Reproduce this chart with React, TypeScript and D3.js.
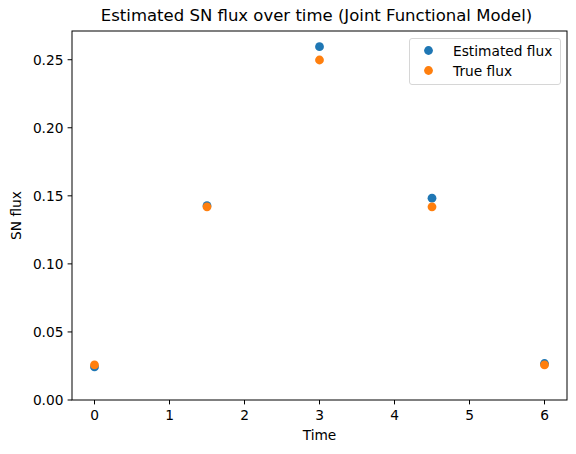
import React from "react";
import { scaleLinear } from "d3";

const times = [0, 1.5, 3, 4.5, 6];
const estimatedFlux = [0.0243, 0.1428, 0.2596, 0.1483, 0.0268];
const trueFlux = [0.0258, 0.1419, 0.2498, 0.1419, 0.0258];
const xTicks = [0, 1, 2, 3, 4, 5, 6];
const yTicks = [0, 0.05, 0.1, 0.15, 0.2, 0.25];

const W = 576;
const H = 454;
const margin = { left: 72, right: 9, top: 31, bottom: 54 };

const blue = "#1f77b4";
const orange = "#ff7f0e";
const font = "DejaVu Sans, sans-serif";
const fs = 13.75;

const App = () => {
  const x = scaleLinear().domain([-0.3, 6.3]).range([margin.left, W - margin.right]);
  const y = scaleLinear().domain([0, 0.2711]).range([H - margin.bottom, margin.top]);
  const [x0, x1] = x.range();
  const [y0, y1] = y.range();

  return (
    <svg width={W} height={H} style={{ position: "absolute", left: 0, top: 0 }} fontFamily={font}>
      <rect width={W} height={H} fill="white" />
      <text x={(x0 + x1) / 2 - 3} y={21} textAnchor="middle" fontSize={16.5}>
        Estimated SN flux over time (Joint Functional Model)
      </text>

      {/* points */}
      {times.map((t, i) => (
        <circle key={"e" + i} cx={x(t)} cy={y(estimatedFlux[i])} r={4.4} fill={blue} />
      ))}
      {times.map((t, i) => (
        <circle key={"t" + i} cx={x(t)} cy={y(trueFlux[i])} r={4.4} fill={orange} />
      ))}

      {/* frame */}
      <rect x={x0} y={y1} width={x1 - x0} height={y0 - y1} fill="none" stroke="black" strokeWidth={1} />

      {/* x axis */}
      {xTicks.map((t) => (
        <g key={t} transform={`translate(${x(t)},${y0})`}>
          <line y2={4.4} stroke="black" />
          <text y={16} textAnchor="middle" fontSize={fs} dominantBaseline="middle">
            {t}
          </text>
        </g>
      ))}
      <text x={(x0 + x1) / 2} y={440} textAnchor="middle" fontSize={fs}>
        Time
      </text>

      {/* y axis */}
      {yTicks.map((t) => (
        <g key={t} transform={`translate(${x0},${y(t)})`}>
          <line x2={-4.4} stroke="black" />
          <text x={-8.5} textAnchor="end" fontSize={fs} dominantBaseline="central">
            {t.toFixed(2)}
          </text>
        </g>
      ))}
      <text
        transform={`translate(21,${(y0 + y1) / 2}) rotate(-90)`}
        textAnchor="middle"
        fontSize={fs}
      >
        SN flux
      </text>

      {/* legend */}
      <g transform="translate(409.5,38.5)">
        <rect width={151} height={46} rx={2.5} fill="white" fillOpacity={0.8} stroke="#d6d6d6" />
        <circle cx={19} cy={12} r={4.4} fill={blue} />
        <text x={43.5} y={12} fontSize={fs} dominantBaseline="central">Estimated flux</text>
        <circle cx={19} cy={32} r={4.4} fill={orange} />
        <text x={43.5} y={32} fontSize={fs} dominantBaseline="central">True flux</text>
      </g>
    </svg>
  );
};

export default App;
